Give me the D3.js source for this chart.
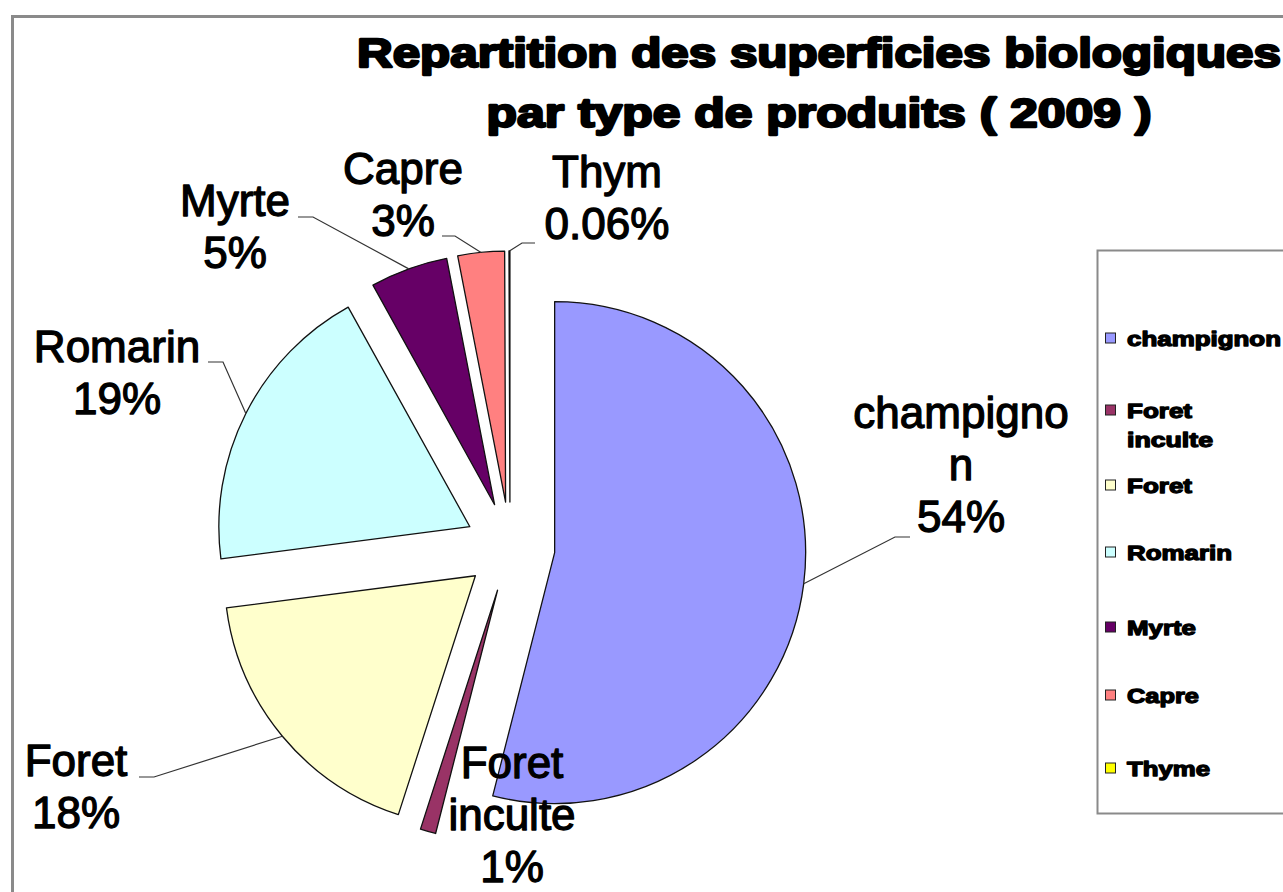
<!DOCTYPE html>
<html>
<head>
<meta charset="utf-8">
<script src="https://cdn.jsdelivr.net/npm/d3@7"></script>
<style>
  body { margin: 0; background: #fff; }
  svg { display: block; }
</style>
</head>
<body>
<div id="chart"></div>
<script>
    // Data: share of organic areas per product (2009)
    const categories = ["champignon", "Foret inculte", "Foret", "Romarin", "Myrte", "Capre", "Thyme"];
    const shares = [54, 1, 18, 19, 5, 3, 0.06];
    const sliceNames = [["champigno", "n"], ["Foret", "inculte"], ["Foret"], ["Romarin"], ["Myrte"], ["Capre"], ["Thym"]];
    const colors = ["#9999FF", "#993366", "#FFFFCC", "#CCFFFF", "#660066", "#FF8080", "#FFFF00"];
    const titleLines = ["Repartition des superficies biologiques", "par type de produits ( 2009 )"];

    // Layout (label anchors, leader elbows, legend rows)
    const labelPos = [
        {x: 961, y: 428, leader: [[910, 537], [895, 537]]},
        {x: 512, y: 778, leader: null},
        {x: 76, y: 776, leader: [[139, 777], [154, 777]]},
        {x: 117, y: 362, leader: [[208, 362], [223, 362]]},
        {x: 235, y: 216, leader: [[298, 217], [313, 217]]},
        {x: 403, y: 184, leader: [[442, 236], [455, 236]]},
        {x: 607, y: 187, leader: [[535, 243], [522, 243]]}
    ];
    const legendY = [338, 410, 485, 552, 627, 695, 768];
    const legendW = [[154], [65, 86], [65], [105], [69], [72], [83]];
    const lineH = 52;

    const W = 1283, H = 892;
    const cx = 510, cy = 547, R = 251, explode = 45;

    const svg = d3.select("#chart").append("svg")
        .attr("width", W)
        .attr("height", H);

    // chart frame
    svg.append("path")
        .attr("d", "M12.5,892 V16.5 H1283")
        .attr("fill", "none")
        .attr("stroke", "#8a8a8a")
        .attr("stroke-width", 3);

    // title
    const tw = [924, 665];
    svg.selectAll("text.title")
        .data(titleLines)
        .enter()
        .append("text")
        .attr("class", "title")
        .attr("x", 819)
        .attr("y", (d, i) => 67 + i * 60)
        .attr("text-anchor", "middle")
        .attr("textLength", (d, i) => tw[i])
        .attr("lengthAdjust", "spacingAndGlyphs")
        .style("font-family", "'Liberation Sans', Arial, sans-serif")
        .style("font-weight", "bold")
        .style("font-size", "41px")
        .style("stroke", "#000")
        .style("stroke-width", 2.4)
        .style("stroke-linejoin", "round")
        .text(d => d);

    const pie = d3.pie().sort(null).value(d => d);
    const arcs = pie(shares);
    const arc = d3.arc().innerRadius(0).outerRadius(R);
    const rim = d3.arc().innerRadius(R).outerRadius(R);

    const offset = function(a) {
        const m = (a.startAngle + a.endAngle) / 2;
        return [explode * Math.sin(m), -explode * Math.cos(m)];
    };

    const g = svg.append("g").attr("transform", "translate(" + cx + "," + cy + ")");

    g.selectAll("path.slice")
        .data(arcs)
        .enter()
        .append("path")
        .attr("class", "slice")
        .attr("transform", d => "translate(" + offset(d) + ")")
        .attr("d", arc)
        .attr("fill", (d, i) => colors[i])
        .attr("stroke", "#111")
        .attr("stroke-width", 1.3)
        .attr("stroke-linejoin", "round");

    // leader lines
    arcs.forEach(function(a, i) {
        const p = labelPos[i];
        if (!p.leader) return;
        const o = offset(a);
        const c = rim.centroid(a);
        const end = [cx + o[0] + c[0], cy + o[1] + c[1]];
        svg.append("path")
            .attr("d", d3.line()([p.leader[0], p.leader[1], end]))
            .attr("fill", "none")
            .attr("stroke", "#333")
            .attr("stroke-width", 1.2);
    });

    const pct = v => (v < 1 ? v.toFixed(2) : v) + "%";

    // slice labels
    arcs.forEach(function(a, i) {
        const p = labelPos[i];
        const lines = sliceNames[i].concat([pct(shares[i])]);
        svg.append("text")
            .attr("text-anchor", "middle")
            .style("font-family", "'Liberation Sans', Arial, sans-serif")
            .style("font-size", "44px")
            .style("fill", "#000")
            .style("stroke", "#000")
            .style("stroke-width", 1.3)
            .style("stroke-linejoin", "round")
            .selectAll("tspan")
            .data(lines)
            .enter()
            .append("tspan")
            .attr("x", p.x)
            .attr("y", (d, j) => p.y + j * lineH)
            .text(d => d);
    });

    // legend
    svg.append("path")
        .attr("d", "M1284,250.5 H1097.5 V813.5 H1284")
        .attr("fill", "#fff")
        .attr("stroke", "#8a8a8a")
        .attr("stroke-width", 2);

    const leg = svg.selectAll("g.leg")
        .data(categories)
        .enter()
        .append("g")
        .attr("class", "leg")
        .attr("transform", (d, i) => "translate(0," + legendY[i] + ")");

    leg.append("rect")
        .attr("x", 1105.5)
        .attr("y", -5)
        .attr("width", 10)
        .attr("height", 10)
        .attr("fill", (d, i) => colors[i])
        .attr("stroke", "#222")
        .attr("stroke-width", 1);

    leg.each(function(d, i) {
        const parts = i === 1 ? ["Foret", "inculte"] : [d];
        const sel = d3.select(this);
        parts.forEach(function(t, j) {
            sel.append("text")
                .attr("x", 1127)
                .attr("y", 8 + j * 29)
                .attr("textLength", legendW[i][j])
                .attr("lengthAdjust", "spacingAndGlyphs")
                .style("font-family", "'Liberation Sans', Arial, sans-serif")
                .style("font-weight", "bold")
                .style("font-size", "20px")
                .style("stroke", "#000")
                .style("stroke-width", 1.3)
                .style("stroke-linejoin", "round")
                .text(t);
        });
    });
</script>
</body>
</html>
